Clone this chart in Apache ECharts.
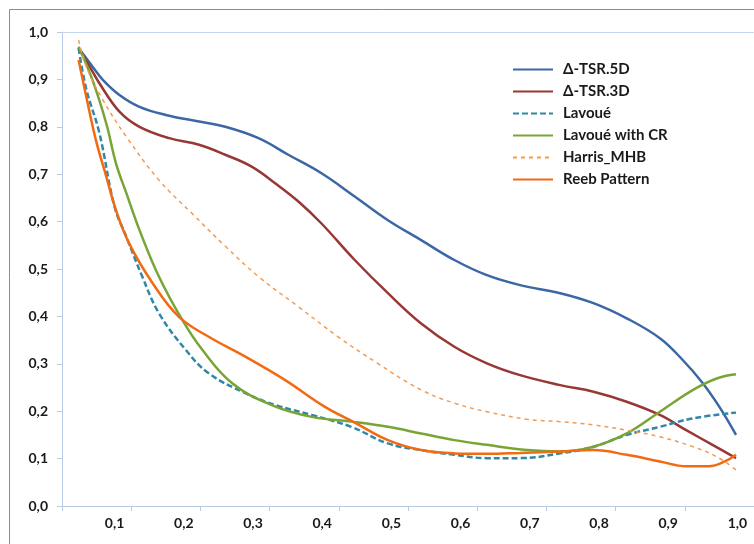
<!DOCTYPE html>
<html>
<head>
<meta charset="utf-8">
<script src="https://cdn.jsdelivr.net/npm/echarts@6/dist/echarts.min.js"></script>
<style>html,body{margin:0;padding:0;background:#fff}#c{width:754px;height:544px}</style>
</head>
<body>
<div id="c"></div>
<script>
// Series names
const seriesNames = ['\u0394-TSR.5D', '\u0394-TSR.3D', 'Lavou\u00e9', 'Lavou\u00e9 with CR', 'Harris_MHB', 'Reeb Pattern'];

// Tick labels
const xLabelValues = [0.1, 0.2, 0.3, 0.4, 0.5, 0.6, 0.7, 0.8, 0.9, 1.0];
const xTickValues = [0.024, 0.124, 0.224, 0.324, 0.424, 0.524, 0.624, 0.724, 0.824, 0.924, 1.024];

// Data: [x, y]
const tsr5d = [[0.048,0.966],[0.068,0.927],[0.083,0.899],[0.107,0.867],[0.136,0.842],[0.174,0.825],[0.222,0.811],[0.260,0.800],[0.308,0.776],[0.351,0.741],[0.399,0.702],[0.447,0.653],[0.495,0.603],[0.543,0.561],[0.591,0.519],[0.638,0.487],[0.686,0.466],[0.744,0.449],[0.792,0.428],[0.840,0.396],[0.888,0.354],[0.921,0.308],[0.950,0.259],[0.974,0.209],[0.998,0.150]];
const tsr3d = [[0.048,0.966],[0.064,0.927],[0.078,0.892],[0.107,0.832],[0.136,0.800],[0.179,0.776],[0.222,0.762],[0.260,0.741],[0.298,0.716],[0.332,0.681],[0.366,0.642],[0.399,0.596],[0.447,0.519],[0.495,0.449],[0.543,0.385],[0.591,0.336],[0.638,0.301],[0.686,0.276],[0.744,0.255],[0.792,0.241],[0.840,0.220],[0.888,0.192],[0.926,0.160],[0.964,0.129],[0.998,0.101]];
const lavoue = [[0.048,0.966],[0.059,0.880],[0.078,0.787],[0.100,0.631],[0.117,0.568],[0.140,0.484],[0.164,0.407],[0.203,0.329],[0.236,0.280],[0.289,0.238],[0.332,0.213],[0.385,0.192],[0.442,0.167],[0.495,0.132],[0.543,0.118],[0.591,0.108],[0.638,0.101],[0.686,0.101],[0.744,0.111],[0.792,0.125],[0.840,0.150],[0.888,0.167],[0.936,0.185],[0.998,0.197]];
const lavoueCR = [[0.048,0.969],[0.068,0.899],[0.088,0.807],[0.102,0.723],[0.117,0.660],[0.136,0.582],[0.164,0.484],[0.198,0.392],[0.227,0.329],[0.270,0.259],[0.327,0.213],[0.385,0.188],[0.442,0.178],[0.495,0.167],[0.543,0.153],[0.591,0.139],[0.638,0.129],[0.696,0.118],[0.744,0.115],[0.792,0.125],[0.840,0.153],[0.888,0.199],[0.936,0.245],[0.970,0.269],[0.998,0.278]];
const harris = [[0.048,0.983],[0.059,0.927],[0.083,0.857],[0.117,0.779],[0.164,0.688],[0.212,0.617],[0.260,0.548],[0.308,0.484],[0.366,0.420],[0.423,0.357],[0.480,0.301],[0.543,0.245],[0.591,0.217],[0.638,0.199],[0.696,0.183],[0.744,0.178],[0.792,0.171],[0.840,0.160],[0.888,0.146],[0.936,0.125],[0.970,0.104],[0.998,0.076]];
const reeb = [[0.048,0.941],[0.059,0.864],[0.073,0.772],[0.088,0.695],[0.102,0.624],[0.121,0.554],[0.155,0.470],[0.193,0.399],[0.236,0.357],[0.289,0.315],[0.346,0.266],[0.404,0.209],[0.447,0.176],[0.495,0.139],[0.543,0.118],[0.591,0.111],[0.638,0.110],[0.686,0.112],[0.744,0.115],[0.792,0.118],[0.840,0.108],[0.888,0.094],[0.926,0.084],[0.959,0.084],[0.982,0.094],[0.998,0.108]];

const seriesData = [tsr5d, tsr3d, lavoue, lavoueCR, harris, reeb];
const colors = ['#3C67A5', '#983835', '#2F88A6', '#78A536', '#F59A4E', '#F26A12'];
const lineTypes = ['solid', 'solid', [6, 3], 'solid', [4, 4], 'solid'];
const widths = [2.5, 2.5, 2.5, 2.5, 1.5, 2.5];

const fontFamily = 'Lato, "Liberation Sans", sans-serif';
const axisColor = '#B9CBE4';
const fmt = v => v.toFixed(1).replace('.', ',');

const chart = echarts.init(document.getElementById('c'), null, {renderer: 'canvas'});
chart.setOption({
  backgroundColor: '#fff',
  animation: false,
  graphic: [{
    type: 'rect', left: 7, top: 7, silent: true,
    shape: {x: 0, y: 0, width: 800, height: 600},
    style: {fill: 'none', stroke: '#8c8c8c', lineWidth: 1}
  }],
  grid: {left: 62, top: 32, width: 696, height: 474, containLabel: false},
  legend: {
    orient: 'vertical', left: 507, top: 57,
    itemWidth: 40, itemHeight: 14, itemGap: 7,
    itemStyle: {opacity: 0},
    textStyle: {fontFamily, fontWeight: 'bold', fontSize: 15, color: '#1a1a1a', padding: [0, 0, 0, 5]},
    data: seriesNames
  },
  xAxis: [{
    type: 'value', min: 0.024, max: 1.024, position: 'bottom',
    axisLine: {show: true, lineStyle: {color: axisColor, width: 1}},
    axisTick: {show: true, inside: false, length: 5, customValues: xTickValues, lineStyle: {color: axisColor}},
    axisLabel: {customValues: xLabelValues, formatter: fmt, margin: 10, fontFamily, fontWeight: 'bold', fontSize: 14, color: '#1a1a1a'},
    splitLine: {show: false}
  }, {
    type: 'value', min: 0.024, max: 1.024, position: 'top',
    axisLine: {show: true, onZero: false, lineStyle: {color: axisColor, width: 1, type: 'dotted'}},
    axisTick: {show: false}, axisLabel: {show: false}, splitLine: {show: false}
  }],
  yAxis: {
    type: 'value', min: 0, max: 1, interval: 0.1,
    axisLine: {show: true, lineStyle: {color: axisColor, width: 1}},
    axisTick: {show: true, length: 5, lineStyle: {color: axisColor}},
    axisLabel: {formatter: fmt, margin: 14, fontFamily, fontWeight: 'bold', fontSize: 14, color: '#1a1a1a'},
    splitLine: {show: false}
  },
  series: seriesNames.map((name, i) => ({
    name, type: 'line', xAxisIndex: 0, data: seriesData[i],
    smooth: 0.4, symbol: 'none', showSymbol: false,
    itemStyle: {color: colors[i]},
    lineStyle: {color: colors[i], width: widths[i], type: lineTypes[i]}
  }))
});
</script>
</body>
</html>
